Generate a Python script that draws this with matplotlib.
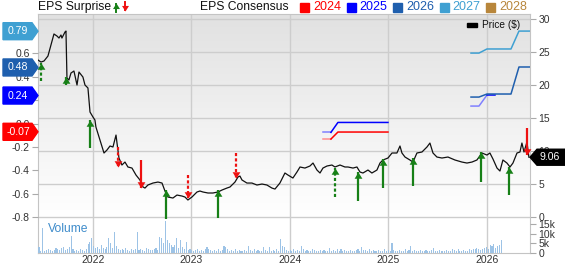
import matplotlib
matplotlib.use('Agg')
import matplotlib.pyplot as plt
import numpy as np
from matplotlib.patches import Polygon, Rectangle
from matplotlib.path import Path
from matplotlib.lines import Line2D
from matplotlib.transforms import IdentityTransform
from matplotlib.colors import LinearSegmentedColormap

plt.rcParams['font.family'] = ['Liberation Sans', 'DejaVu Sans']
plt.rcParams['axes.unicode_minus'] = False

W, H = 565, 264

# ---- price line (decimal year, $) ----
price_dates = [2021.442, 2021.472, 2021.503, 2021.543, 2021.574, 2021.604, 2021.635, 2021.655, 2021.675, 2021.685,
               2021.716, 2021.726, 2021.736, 2021.756, 2021.777, 2021.807, 2021.838, 2021.858, 2021.898, 2021.919,
               2021.949, 2021.970, 2022.000, 2022.020, 2022.030, 2022.071, 2022.112, 2022.142, 2022.173, 2022.203,
               2022.234, 2022.244, 2022.264, 2022.294, 2022.325, 2022.355, 2022.396, 2022.437, 2022.477, 2022.508,
               2022.528, 2022.558, 2022.609, 2022.660, 2022.701, 2022.731, 2022.761, 2022.812, 2022.853, 2022.904,
               2022.934, 2022.964, 2023.005, 2023.056, 2023.086, 2023.117, 2023.168, 2023.218, 2023.269, 2023.310,
               2023.360, 2023.391, 2023.442, 2023.472, 2023.492, 2023.513, 2023.563, 2023.614, 2023.665, 2023.716,
               2023.766, 2023.817, 2023.848, 2023.898, 2023.949, 2023.980, 2024.030, 2024.071, 2024.102, 2024.152,
               2024.203, 2024.234, 2024.274, 2024.305, 2024.335, 2024.376, 2024.426, 2024.457, 2024.508, 2024.558,
               2024.589, 2024.640, 2024.680, 2024.711, 2024.741, 2024.792, 2024.832, 2024.883, 2024.914, 2024.944,
               2024.995, 2025.036, 2025.086, 2025.117, 2025.137, 2025.168, 2025.218, 2025.249, 2025.289, 2025.340,
               2025.391, 2025.421, 2025.452, 2025.492, 2025.543, 2025.604, 2025.675, 2025.746, 2025.797, 2025.848,
               2025.898, 2025.949, 2026.000, 2026.030, 2026.061, 2026.102, 2026.132, 2026.162, 2026.203, 2026.234,
               2026.264, 2026.305, 2026.335, 2026.355, 2026.376, 2026.406, 2026.426]
price_values = [23.79, 23.48, 23.64, 24.39, 26.06, 27.73, 27.42, 27.12, 27.58, 27.12,
                28.03, 28.18, 21.06, 20.76, 21.82, 22.12, 20.00, 21.97, 21.21, 20.00,
                19.55, 15.91, 15.15, 14.70, 13.64, 11.67, 9.70, 10.15, 10.76, 10.61,
                12.42, 11.21, 8.94, 7.88, 8.33, 7.58, 7.42, 6.36, 5.61, 4.55,
                4.39, 4.85, 5.15, 5.30, 5.15, 3.94, 3.03, 2.88, 3.33, 3.18,
                3.03, 2.58, 3.03, 3.79, 3.94, 3.79, 3.64, 3.64, 3.79, 4.09,
                4.39, 4.55, 5.30, 6.06, 6.21, 5.61, 5.15, 5.15, 4.85, 5.00,
                4.85, 4.39, 4.24, 5.15, 6.67, 6.36, 5.91, 6.82, 7.58, 7.42,
                7.73, 8.18, 7.12, 6.67, 7.42, 7.73, 7.88, 7.58, 7.88, 7.58,
                7.58, 7.42, 7.58, 6.82, 6.67, 7.12, 6.67, 7.12, 8.18, 8.64,
                8.94, 9.70, 9.70, 10.76, 9.70, 9.09, 8.64, 8.33, 9.70, 9.85,
                10.61, 11.21, 9.70, 9.09, 8.94, 9.09, 8.64, 8.33, 8.18, 8.33,
                8.64, 9.70, 9.39, 9.70, 8.79, 7.42, 6.97, 8.64, 8.18, 7.58,
                8.18, 9.70, 9.85, 11.21, 9.85, 11.36, 9.06]
last_price = 9.06

# ---- EPS surprise arrows (price scale) ----
surprise_dates = [2021.472, 2021.726, 2021.970, 2022.254, 2022.487, 2022.741, 2022.964, 2023.269,
                  2023.452, 2024.457, 2024.690, 2024.944, 2025.249, 2025.939, 2026.223, 2026.406]
surprise_from = [20.61, 20.0, 10.45, 10.61, 8.64, -0.3, 6.36, -0.15,
                 9.70, 3.03, 2.42, 4.39, 4.70, 5.30, 3.33, 13.48]
surprise_to = [23.33, 21.21, 14.70, 7.58, 4.39, 4.09, 2.88, 4.09,
               5.91, 7.42, 6.82, 8.79, 8.94, 9.85, 7.58, 9.39]
surprise_dashed = [True, False, False, True, False, False, True, False,
                   True, True, False, False, False, False, False, False]

# ---- EPS consensus lines (EPS scale) ----
cons_years = ['2024', '2025', '2026', '2027', '2028']
cons_colors = ['#ff0000', '#0000ff', '#1f5fae', '#3fa0d2', '#b8863b']
cons_2024_dates = [2024.335, 2024.416, 2024.487, 2024.995]
cons_2024_values = [-0.132, -0.132, -0.072, -0.072]
cons_2025a_dates = [2024.335, 2024.416, 2024.487, 2024.995]
cons_2025a_values = [-0.075, -0.075, 0.01, 0.01]
cons_2025b_dates = [2025.838, 2025.919, 2026.000, 2026.081]
cons_2025b_values = [0.150, 0.150, 0.244, 0.244]
cons_2026_dates = [2025.838, 2025.919, 2026.000, 2026.244, 2026.325, 2026.437]
cons_2026_values = [0.227, 0.227, 0.253, 0.253, 0.484, 0.484]
cons_2027_dates = [2025.838, 2025.919, 2026.000, 2026.244, 2026.325, 2026.437]
cons_2027_values = [0.603, 0.603, 0.638, 0.638, 0.791, 0.791]

tag_values = [0.79, 0.48, 0.24, -0.07]
tag_colors = ['#3fa0d2', '#1f5fae', '#0000ff', '#ff0000']

eps_ticks = [0.6, 0.4, 0.2, 0.0, -0.2, -0.4, -0.6, -0.8]
price_ticks = [0, 5, 10, 15, 20, 25, 30]
vol_ticks = [0, 5, 10, 15]
vol_tick_labels = ['0', '5k', '10k', '15k']
year_ticks = [2022, 2023, 2024, 2025, 2026]

# ---- weekly volume (thousands) ----
volume_start = 2021.452
volume_k = [3, 1, 13, 1, 1.5, 2, 1.5, 1, 1.5, 2.5,
            2, 1.5, 2.5, 3, 1.5, 2, 3, 9, 2, 1,
            1.5, 1, 2, 1.5, 1, 2, 4.5, 5.5, 7.5, 3.5,
            2.5, 3, 2, 4, 2.5, 2, 3, 7.5, 5, 2.5,
            11, 3.5, 2, 1.5, 2, 1.5, 2.5, 1.5, 1, 2,
            1.5, 2, 11, 1.5, 2, 1.5, 1, 2.5, 2, 1.5,
            1.5, 2, 2.5, 1.5, 8.5, 8, 5, 16.5, 6.5, 5,
            4, 3, 4, 8, 2.5, 6.5, 3, 2, 5.5, 1.5,
            2, 1.5, 1, 1.5, 2, 1, 1.5, 1, 2, 3,
            2, 1.5, 1, 1.5, 1, 2, 1, 1.5, 3.5, 3,
            2, 1, 1.5, 1, 2, 1, 1.5, 1, 1, 1.5,
            1, 3.5, 1.5, 1, 2, 1, 1.5, 1, 1, 3,
            1.5, 1, 3, 1, 1.5, 1, 2, 1, 7, 3.5,
            3, 1.5, 1, 1.5, 1, 2, 1, 1.5, 1, 3.5,
            2, 1, 1.5, 1, 1, 2, 1.5, 1, 1, 1.5,
            1, 1.5, 1, 1, 2.5, 1, 1.5, 1, 2, 1,
            2, 1, 1.5, 1, 1, 1.5, 1, 1, 1.5, 2,
            1, 3, 1.5, 1.5, 1, 2, 1, 1.5, 1, 1,
            1.5, 1, 1, 2, 1, 1.5, 1, 5, 1.5, 1,
            1, 1.5, 1, 1, 2, 1, 1.5, 3.5, 1, 1.5,
            1, 1, 1.5, 1, 1, 1.5, 1, 1, 1.5, 2.5,
            1, 1, 1.5, 1, 1, 1, 1.5, 1, 1, 2,
            1.5, 1, 2, 1, 1, 1.5, 1, 1, 2, 1.5,
            2, 2, 2.5, 2, 1.5, 2, 2.5, 3, 2, 4,
            3.5, 4.5, 2.5, 3.5, 4, 6.5]

GREEN = '#178017'
RED = '#ee1111'
GRID = '#cdcdcd'
TXT = '#333333'


def fy(y):
    # pixel row from top -> display y
    return H - y


fig = plt.figure(figsize=(W / 100, H / 100), dpi=100)
ax = fig.add_axes([38 / W, (H - 253) / H, (530 - 38) / W, (253 - 14) / H])
x0, x1 = 2021.442, 2026.437
price_lim = (-5.45, 30.76)
eps_lim = (-1.106, 0.937)

ax_vol = ax.twinx()
ax_eps = ax.twinx()

# background gradient over price area
bg = LinearSegmentedColormap.from_list('bg', ['#e1e1e1', '#ffffff'])
ax.imshow(np.linspace(0, 1, 200)[:, None], extent=(x0, x1, 0, price_lim[1]),
          aspect='auto', cmap=bg, zorder=0, interpolation='bilinear')
ax.set_xlim(x0, x1)
ax.set_ylim(*price_lim)
ax.set_axisbelow(True)
ax.grid(True, color=GRID, lw=1.0)
ax.yaxis.tick_right()
ax.set_yticks(price_ticks)
ax.set_xticks(year_ticks)
ax.set_xticklabels([str(y) for y in year_ticks])
ax.tick_params(axis='y', length=4, color='#aaaaaa', labelsize=7.5, labelcolor=TXT, pad=2)
ax.tick_params(axis='x', length=0, labelsize=7.5, labelcolor=TXT, pad=1.5)
for s in ax.spines.values():
    s.set_color('#c4c4c4')

# price line
ax.plot(price_dates, price_values, color='#111111', lw=0.9, zorder=3)

# surprise arrows
up_head = Path([(-1, -1.6), (1, -1.6), (0, 0), (-1, -1.6)],
               [Path.MOVETO, Path.LINETO, Path.LINETO, Path.CLOSEPOLY])
down_head = Path([(-1, 1.6), (1, 1.6), (0, 0), (-1, 1.6)],
                 [Path.MOVETO, Path.LINETO, Path.LINETO, Path.CLOSEPOLY])
for d, f, t, dashed in zip(surprise_dates, surprise_from, surprise_to, surprise_dashed):
    beat = t > f
    c = GREEN if beat else RED
    ls = (0, (1.4, 1.0)) if dashed else '-'
    ax.plot([d, d], [f, t], color=c, lw=1.6, ls=ls, solid_capstyle='butt', clip_on=False, zorder=4)
    ax.plot([d], [t], marker=up_head if beat else down_head, ms=9, color=c, mew=0,
            ls='none', clip_on=False, zorder=5)

# volume
vol_dates = volume_start + np.arange(len(volume_k)) * 7 / 365.25
ax_vol.bar(vol_dates, volume_k, width=0.011, color='#9dc3e6', lw=0, zorder=2)
ax_vol.set_ylim(0, 123.6)
ax_vol.yaxis.tick_right()
ax_vol.set_yticks(vol_ticks)
ax_vol.set_yticklabels(vol_tick_labels)
ax_vol.tick_params(axis='y', length=4, color='#aaaaaa', labelsize=7.5, labelcolor=TXT, pad=2)
for s in ax_vol.spines.values():
    s.set_visible(False)

# EPS consensus
ax_eps.set_ylim(*eps_lim)
ax_eps.set_xlim(x0, x1)
ax_eps.yaxis.tick_left()
ax_eps.set_yticks(eps_ticks)
ax_eps.set_yticklabels([f'{v:.1f}' for v in eps_ticks])
ax_eps.tick_params(axis='y', length=4, color='#aaaaaa', labelsize=7.5, labelcolor=TXT, pad=2)
for s in ax_eps.spines.values():
    s.set_visible(False)

light_red, light_blue = '#ff8c8c', '#8080ff'
ax_eps.plot(cons_2024_dates[:2], cons_2024_values[:2], color=light_red, lw=1.1)
ax_eps.plot(cons_2024_dates[1:], cons_2024_values[1:], color=cons_colors[0], lw=1.1)
ax_eps.plot(cons_2025a_dates[:2], cons_2025a_values[:2], color=light_blue, lw=1.1)
ax_eps.plot(cons_2025a_dates[1:], cons_2025a_values[1:], color=cons_colors[1], lw=1.1)
ax_eps.plot(cons_2025b_dates[:3], cons_2025b_values[:3], color=light_blue, lw=1.1)
ax_eps.plot(cons_2025b_dates[2:], cons_2025b_values[2:], color=cons_colors[1], lw=1.1)
ax_eps.plot(cons_2026_dates, cons_2026_values, color=cons_colors[2], lw=1.1)
ax_eps.plot(cons_2027_dates, cons_2027_values, color=cons_colors[3], lw=1.1)

ident = IdentityTransform()

# left consensus tags
for v, c in zip(tag_values, tag_colors):
    yd = ax_eps.transData.transform((x0, v))[1]
    pts = [(3, yd - 8.5), (32, yd - 8.5), (38, yd), (32, yd + 8.5), (3, yd + 8.5)]
    fig.add_artist(Polygon(pts, closed=True, color=c, transform=ident, zorder=5))
    fig.text(18, yd, f'{v:.2f}', color='white', fontsize=7.6, ha='center', va='center',
             transform=ident, zorder=6)

# right price tag
yd = ax.transData.transform((x1, last_price))[1]
pts = [(530, yd), (537, yd - 8), (565, yd - 8), (565, yd + 8), (537, yd + 8)]
fig.add_artist(Polygon(pts, closed=True, color='black', transform=ident, zorder=5))
fig.text(550, yd, f'{last_price:.2f}', color='white', fontsize=7.6, ha='center', va='center',
         transform=ident, zorder=6)

# top legend
fig.text(38, fy(7), 'EPS Surprise', fontsize=8.7, color='#111111', va='center', transform=ident)
fig.add_artist(Line2D([115.5, 115.5], [fy(12), fy(4)], color=GREEN, lw=1.4, transform=ident))
fig.add_artist(Line2D([115.5], [fy(3)], marker=up_head, ms=8, color=GREEN, mew=0, transform=ident))
fig.add_artist(Line2D([125, 125], [fy(2), fy(10)], color=RED, lw=1.4, transform=ident))
fig.add_artist(Line2D([125], [fy(11)], marker=down_head, ms=8, color=RED, mew=0, transform=ident))

fig.text(200, fy(7), 'EPS Consensus', fontsize=8.7, color='#111111', va='center', transform=ident)
for i, (yr, c) in enumerate(zip(cons_years, cons_colors)):
    sx = 300 + 46.6 * i
    fig.add_artist(Rectangle((sx, fy(12.3)), 9, 9, color=c, transform=ident))
    fig.text(sx + 13, fy(7.3), yr, fontsize=9, color=c, va='center', transform=ident)

fig.add_artist(Rectangle((467, fy(27.3)), 10, 4.6, color='black', transform=ident, zorder=5))
fig.text(482, fy(25.5), 'Price ($)', fontsize=7.3, color='#111111', va='center', transform=ident, zorder=6)

fig.text(48, fy(229), 'Volume', fontsize=8.7, color='#3f8ccb', va='center', transform=ident)

fig.savefig('out.png', dpi=100)
